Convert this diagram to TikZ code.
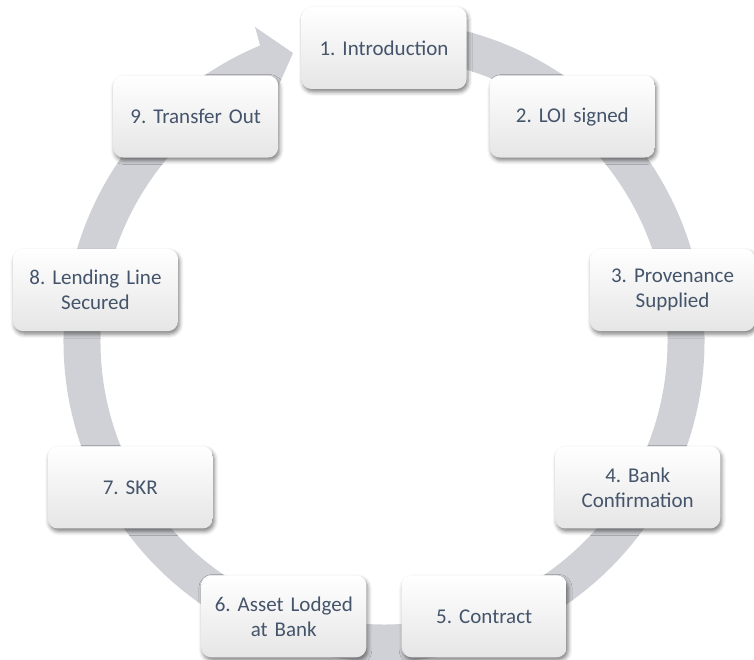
\documentclass[tikz,border=0pt]{standalone}
\usepackage{fontspec}
\setmainfont{Carlito}
\usetikzlibrary{calc,shadows.blur}
\definecolor{ringgrey}{RGB}{208,209,214}
\definecolor{txtcol}{RGB}{68,84,106}
\tikzset{
  stepbox/.style={rounded corners=10pt, minimum width=165pt, minimum height=82pt,
    text width=155pt, align=center, inner sep=0pt,
    top color=white, bottom color=black!10,
    blur shadow={shadow xshift=1.5pt, shadow yshift=-3pt, shadow blur radius=4pt, shadow opacity=50},
    font=\fontsize{21}{25}\selectfont\frenchspacing, text=txtcol},
  ring/.style={ringgrey, line width=37pt}
}
\begin{document}
\frenchspacing
\begin{tikzpicture}[x=1pt,y=1pt]
\useasboundingbox (0,0) rectangle (754,660);
\coordinate (C) at (384,319);
% ring with arrow head
\draw[ring] (C) ++(85:302) arc[start angle=85, end angle=-248.5, radius=302];
\coordinate (hb1) at (255,633);
\coordinate (ht) at (293,607);
\coordinate (hb2) at (274,564);
\fill[ringgrey] (hb1) -- (ht) -- (hb2) -- cycle;
% steps
\node[stepbox] (n1) at ($(C)+(90:293)$) {1. Introduction};
\node[stepbox] (n2) at ($(C)+(50:293)$) {2. LOI signed};
\node[stepbox] (n3) at ($(C)+(10:293)$) {3. Provenance\\Supplied};
\node[stepbox] (n4) at ($(C)+(-30:293)$) {4. Bank\\Confirmation};
\node[stepbox] (n5) at ($(C)+(-70:293)$) {5. Contract};
\node[stepbox] (n6) at ($(C)+(-110:293)$) {6. Asset Lodged\\at Bank};
\node[stepbox] (n7) at ($(C)+(-150:293)$) {7. SKR};
\node[stepbox] (n8) at ($(C)+(170:293)$) {8. Lending Line\\Secured};
\node[stepbox] (n9) at ($(C)+(130:293)$) {9. Transfer Out};
\end{tikzpicture}
\end{document}
